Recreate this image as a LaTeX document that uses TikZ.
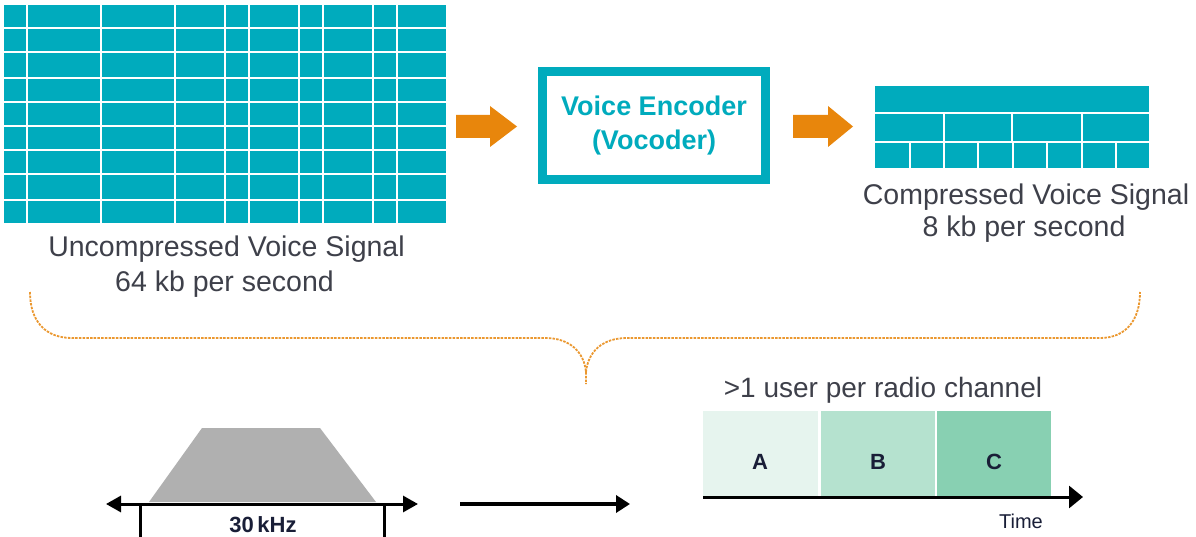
\documentclass[tikz,border=0pt]{standalone}
\usepackage{fontspec}
\setmainfont{Liberation Sans}
\usetikzlibrary{arrows.meta}
\definecolor{teal1}{RGB}{0,171,189}
\definecolor{orng}{RGB}{232,134,12}
\definecolor{txt}{RGB}{62,64,74}
\definecolor{gA}{RGB}{230,244,238}
\definecolor{gB}{RGB}{181,226,207}
\definecolor{gC}{RGB}{136,208,178}
\definecolor{trap}{RGB}{176,176,176}
\definecolor{navy}{RGB}{25,30,55}
\tikzset{
  x=1pt, y=-1pt,
  lbl/.style={inner sep=0pt, anchor=base, text=txt, font=\fontsize{28.5}{34}\selectfont},
  cellfill/.style={fill=teal1},
  gapline/.style={draw=white, line width=2.2pt},
  blockarrow/.style={fill=orng},
  bracepath/.style={draw=orng!85, line width=1.8pt, dash pattern=on 2.5pt off 1.2pt},
  axis/.style={draw=black, line width=3pt},
  slot/.style={draw=none, inner sep=0pt, anchor=north west},
  slotlbl/.style={inner sep=0pt, font=\fontsize{22}{22}\selectfont\bfseries, text=navy},
}
\begin{document}
\begin{tikzpicture}
\useasboundingbox[fill=white] (0,0) rectangle (1196,537);
% uncompressed grid
\fill[cellfill] (4,4.7) rectangle (446,222.7);
\foreach \yy in {27.7,51.7,77.7,101.7,125.7,149.7,173.7,199.7}
  \draw[gapline] (4,\yy) -- (446,\yy);
\foreach \xx in {27,101,175,225,249,299,323,373,397}
  \draw[gapline] (\xx,4.7) -- (\xx,222.7);
\node[lbl] (unc1) at (226.5,257) {Uncompressed Voice Signal};
\node[lbl] (unc2) at (224.5,291) {64 kb per second};
% encoder
\node[draw=teal1, line width=9pt, minimum width=223pt, minimum height=108pt, inner sep=0pt,
  align=center, text=teal1, font=\fontsize{27}{34}\selectfont\bfseries] (enc) at (654,125.5)
  {Voice Encoder\\(Vocoder)};
% orange arrows
\coordinate (a1) at (456,126.5);
\fill[blockarrow] (a1) ++(0,-11.5) -- ++(34,0) -- ++(0,-9) -- ++(27,20.5) -- ++(-27,20.5) -- ++(0,-9) -- ++(-34,0) -- cycle;
\coordinate (a2) at (793,126.5);
\fill[blockarrow] (a2) ++(0,-11.5) -- ++(35,0) -- ++(0,-9) -- ++(25,20.5) -- ++(-25,20.5) -- ++(0,-9) -- ++(-35,0) -- cycle;
% compressed grid
\fill[cellfill] (875,86) rectangle (1149,112);
\foreach \a/\b in {875/942.5,944.5/1011,1013/1081,1083/1149}
  \fill[cellfill] (\a,114) rectangle (\b,141);
\foreach \a/\b in {875/909,911/942.5,944.5/977,979/1012,1014/1045.5,1047.5/1081,1083/1114.5,1116.5/1149}
  \fill[cellfill] (\a,143) rectangle (\b,168);
\node[lbl] (cmp1) at (1026,205) {Compressed Voice Signal};
\node[lbl] (cmp2) at (1024,237) {8 kb per second};
% brace
\coordinate (bl) at (30,292);
\coordinate (bt) at (586,384);
\coordinate (br) at (1140,292);
\draw[bracepath] (bl) .. controls (30,322) and (46,338) .. (72,338) -- (545,338)
  .. controls (570,338) and (584,352) .. (586,372) -- (bt);
\draw[bracepath] (586,372) .. controls (588,352) and (602,338) .. (627,338) -- (1100,338)
  .. controls (1126,338) and (1140,320) .. (br);
% bottom left: spectrum
\fill[trap] (149,502) -- (202,428) -- (320,428) -- (376,502) -- cycle;
\coordinate (fl) at (106,504);
\coordinate (fr) at (418,504);
\draw[axis, {Triangle[length=15pt,width=16pt]}-{Triangle[length=15pt,width=16pt]}] (fl) -- (fr);
\coordinate (v1t) at (140,504); \coordinate (v1b) at (140,545);
\coordinate (v2t) at (384,504); \coordinate (v2b) at (384,545);
\draw[axis] (v1t) -- (v1b);
\draw[axis] (v2t) -- (v2b);
\node[inner sep=0pt, anchor=base, text=navy, font=\fontsize{22}{22}\selectfont\bfseries] (khz) at (263,532) {30\,kHz};
% middle arrow
\coordinate (m1) at (460,504);
\coordinate (m2) at (630,504);
\draw[draw=black, line width=4pt, -{Triangle[length=14pt,width=17pt]}] (m1) -- (m2);
% TDMA slots
\node[lbl, font=\fontsize{28}{34}\selectfont] (users) at (883,397) {>1 user per radio channel};
\node[slot, fill=gA, minimum width=115pt, minimum height=86pt] (A) at (703,411) {};
\node[slot, fill=gB, minimum width=114pt, minimum height=86pt] (B) at (821,411) {};
\node[slot, fill=gC, minimum width=114pt, minimum height=86pt] (C) at (937,411) {};
\node[slotlbl] (Al) at (760,462) {A};
\node[slotlbl] (Bl) at (878,462) {B};
\node[slotlbl] (Cl) at (994,462) {C};
\coordinate (t0) at (703,497);
\coordinate (t1) at (1083,497);
\draw[axis, -{Triangle[length=14pt,width=22pt]}] (t0) -- (t1);
\node[inner sep=0pt, anchor=base, text=navy, font=\fontsize{20}{20}\selectfont] (time) at (1021,528) {Time};
\end{tikzpicture}
\end{document}
